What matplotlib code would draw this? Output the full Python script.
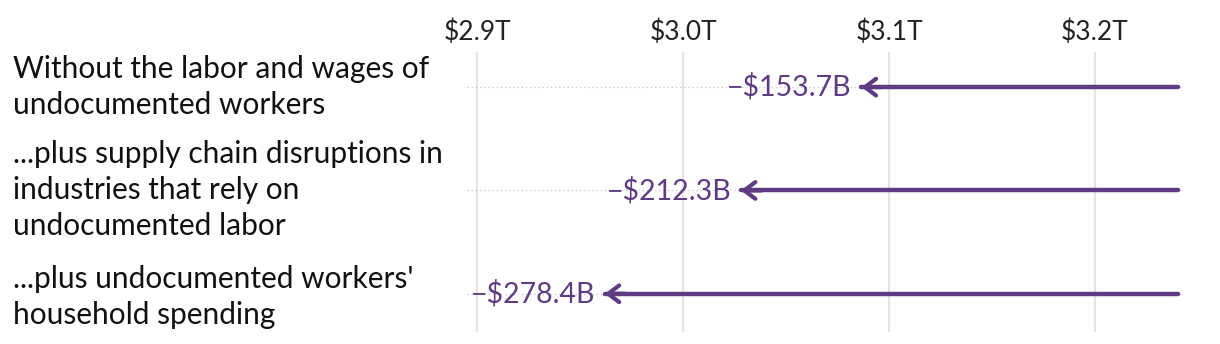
import matplotlib.pyplot as plt

plt.rcParams['font.family'] = ['Lato', 'DejaVu Sans']

# GDP in trillions
baseline = 3.2403
labels = [
    "Without the labor and wages of\nundocumented workers",
    "...plus supply chain disruptions in\nindustries that rely on\nundocumented labor",
    "...plus undocumented workers'\nhousehold spending",
]
losses_b = [153.7, 212.3, 278.4]
ticks = [2.9, 3.0, 3.1, 3.2]
tick_labels = ["$2.9T", "$3.0T", "$3.1T", "$3.2T"]

purple = "#5f3b82"

fig = plt.figure(figsize=(12.2, 3.44), dpi=100)
ax = fig.add_axes([467 / 1220, 12 / 344, (1183 - 467) / 1220, (332 - 52) / 344])

xmin, xmax = 2.8951, 3.2427
ax.set_xlim(xmin, xmax)
ax.set_ylim(2.37, -0.34)

for t in ticks:
    ax.axvline(t, color="#e4e4e4", lw=1.5, zorder=0)

label_y = [87, 190, 297]
for i, (lab, loss) in enumerate(zip(labels, losses_b)):
    end = baseline - loss / 1000
    ax.plot([xmin, xmax], [i, i], color="#cccccc", lw=1, ls=(0, (1, 2)), zorder=1)
    ax.plot([end, baseline], [i, i], color=purple, lw=3.2, solid_capstyle="round", zorder=3)
    ax.annotate("", xy=(end, i), xytext=(end + 0.01, i),
                arrowprops=dict(arrowstyle="->,head_length=0.8,head_width=0.6", color=purple, lw=3,
                                shrinkA=0, shrinkB=0), zorder=4)
    ax.annotate("\u2212${:.1f}B".format(loss), xy=(end, i), xytext=(-7, 0),
                textcoords="offset points", color=purple, fontsize=20.5,
                ha="right", va="center")
    fig.text(13 / 1220, 1 - (label_y[i] / 344), lab, fontsize=21.5,
             ha="left", va="center", linespacing=1.33, color="#111111")

ax.set_xticks(ticks)
ax.set_xticklabels(tick_labels, fontsize=19, color="#222222")
ax.xaxis.tick_top()
ax.tick_params(axis="x", length=0, pad=5)
ax.set_yticks([])
for s in ax.spines.values():
    s.set_visible(False)

fig.savefig("out.png", dpi=100)
